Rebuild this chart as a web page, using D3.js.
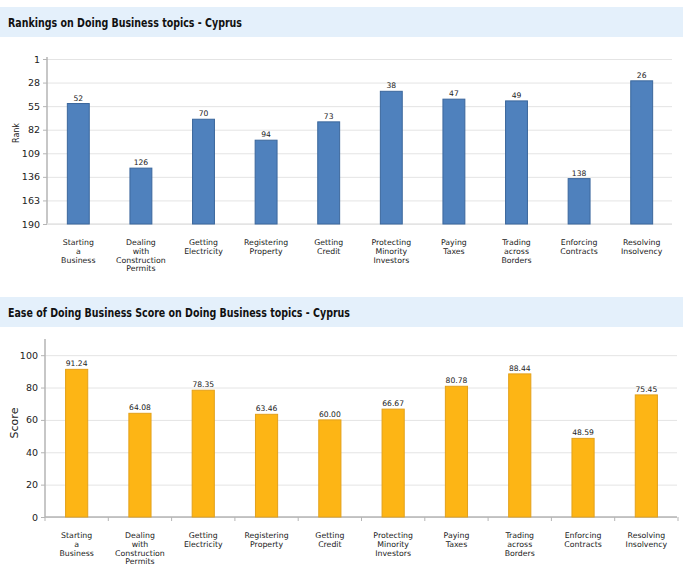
<!DOCTYPE html>
<html>
<head>
<meta charset="utf-8">
<script src="https://cdn.jsdelivr.net/npm/d3@7"></script>
<style>
  body { margin: 0; background: #fff; }
  svg text { font-family: "DejaVu Sans", sans-serif; fill: #222; }
  .title { font-family: "DejaVu Sans Condensed", "DejaVu Sans", sans-serif; font-stretch: condensed; font-weight: bold; font-size: 12px; fill: #111; }
  .grid line { stroke: #e4e4e4; }
  .grid .domain { display: none; }
</style>
</head>
<body>
<svg id="chart" width="700" height="586"></svg>
<script>
// categories (line breaks are the wrapped tick labels)
const categories = [
  'Starting\na\nBusiness',
  'Dealing\nwith\nConstruction\nPermits',
  'Getting\nElectricity',
  'Registering\nProperty',
  'Getting\nCredit',
  'Protecting\nMinority\nInvestors',
  'Paying\nTaxes',
  'Trading\nacross\nBorders',
  'Enforcing\nContracts',
  'Resolving\nInsolvency'
]
const ranks = [52, 126, 70, 94, 73, 38, 47, 49, 138, 26]
const scores = [91.24, 64.08, 78.35, 63.46, 60.00, 66.67, 80.78, 88.44, 48.59, 75.45]
const rankTicks = [1, 28, 55, 82, 109, 136, 163, 190]
const scoreTicks = [0, 20, 40, 60, 80, 100]

const svg = d3.select('#chart')

/**
 * Draws one titled bar chart panel.
 */
function drawPanel (opt) {
  const g = svg.append('g')

  g.append('rect')
    .attr('x', 0).attr('y', opt.bandY)
    .attr('width', 683).attr('height', 30)
    .attr('fill', '#e4f0fb')
  const title = g.append('text')
    .attr('class', 'title')
    .attr('x', 8).attr('y', opt.bandY + 19.5)
    .text(opt.title)
  // keep the title at the width it has in the picture
  if (title.node().getComputedTextLength() > opt.titleWidth) {
    title.attr('textLength', opt.titleWidth).attr('lengthAdjust', 'spacingAndGlyphs')
  }

  const x = d3.scaleBand()
    .domain(categories)
    .range([opt.left, opt.right])
    .paddingInner(0.65)
    .paddingOuter(0.325)

  const y = d3.scaleLinear()
    .domain(opt.domain)
    .range([opt.bottom, opt.top])

  // grid lines
  g.append('g')
    .attr('class', 'grid')
    .attr('transform', 'translate(' + opt.left + ',0)')
    .call(d3.axisLeft(y).tickValues(opt.ticks).tickSize(-(opt.gridRight - opt.left)).tickFormat(''))

  // y axis
  const yAxis = g.append('g')
    .attr('transform', 'translate(' + opt.left + ',0)')
    .call(d3.axisLeft(y).tickValues(opt.ticks).tickSize(4).tickSizeOuter(0))
  yAxis.select('.domain').attr('stroke', '#b5b5b5').attr('stroke-width', 1.5)
    .attr('d', 'M0,' + opt.axisTop + 'V' + opt.bottom)
  yAxis.selectAll('.tick line').attr('stroke', '#b5b5b5')
  yAxis.selectAll('.tick text').attr('font-size', '9.5px').attr('fill', '#333')
    .attr('font-family', '"DejaVu Sans", sans-serif')

  // x axis
  const xAxis = g.append('g')
    .attr('transform', 'translate(0,' + opt.bottom + ')')
    .call(d3.axisBottom(x).tickSize(0).tickFormat(''))
  xAxis.select('.domain').attr('stroke', opt.xAxisColor).attr('stroke-width', 1.5)
    .attr('d', 'M' + opt.left + ',0H' + opt.gridRight)
  if (opt.xTicks) {
    const step = x.step()
    xAxis.selectAll('.boundary')
      .data(d3.range(categories.length + 1))
      .enter()
      .append('line')
      .attr('x1', function (i) { return opt.left + i * step })
      .attr('x2', function (i) { return opt.left + i * step })
      .attr('y1', 0).attr('y2', 4)
      .attr('stroke', '#b5b5b5')
  }

  // category labels
  const labels = g.selectAll('.cat')
    .data(categories)
    .enter()
    .append('text')
    .attr('class', 'cat')
    .attr('text-anchor', 'middle')
    .attr('font-size', '7.8px')
    .attr('transform', function (d) { return 'translate(' + (x(d) + x.bandwidth() / 2) + ',' + (opt.bottom + 21) + ')' })
  labels.selectAll('tspan')
    .data(function (d) { return d.split('\n') })
    .enter()
    .append('tspan')
    .attr('x', 0)
    .attr('y', function (d, i) { return i * 8.8 })
    .text(function (d) { return d })

  // bars
  g.selectAll('.bar')
    .data(opt.values)
    .enter()
    .append('rect')
    .attr('class', 'bar')
    .attr('x', function (d, i) { return x(categories[i]) })
    .attr('width', x.bandwidth())
    .attr('y', function (d) { return Math.min(y(d), opt.bottom) })
    .attr('height', function (d) { return Math.abs(opt.bottom - y(d)) })
    .attr('fill', opt.fill)
    .attr('stroke', opt.stroke)
    .attr('stroke-width', 1)

  // value labels
  g.selectAll('.val')
    .data(opt.values)
    .enter()
    .append('text')
    .attr('class', 'val')
    .attr('text-anchor', 'middle')
    .attr('font-size', '7.6px')
    .attr('x', function (d, i) { return x(categories[i]) + x.bandwidth() / 2 })
    .attr('y', function (d) { return y(d) - 3 })
    .text(function (d) { return opt.format(d) })

  // y axis title
  g.append('text')
    .attr('text-anchor', 'middle')
    .attr('font-size', opt.yTitleSize)
    .attr('transform', 'translate(' + opt.yTitleX + ',' + opt.yTitleY + ') rotate(-90)')
    .text(opt.yTitle)
}

drawPanel({
  title: 'Rankings on Doing Business topics - Cyprus',
  titleWidth: 234,
  bandY: 7,
  left: 47,
  right: 673,
  gridRight: 672,
  top: 59,
  axisTop: 57,
  bottom: 224,
  domain: [190, 1],
  ticks: rankTicks,
  values: ranks,
  fill: '#4f81bd',
  stroke: '#3b679c',
  xAxisColor: '#e4e4e4',
  xTicks: false,
  format: function (d) { return d },
  yTitle: 'Rank',
  yTitleSize: '8px',
  yTitleX: 19,
  yTitleY: 133
})

drawPanel({
  title: 'Ease of Doing Business Score on Doing Business topics - Cyprus',
  titleWidth: 342,
  bandY: 297,
  left: 45,
  right: 678,
  gridRight: 677,
  top: 339,
  axisTop: 339,
  bottom: 517,
  domain: [0, 110],
  ticks: scoreTicks,
  values: scores,
  fill: '#fdb515',
  stroke: '#e3a11a',
  xAxisColor: '#b5b5b5',
  xTicks: true,
  format: function (d) { return d.toFixed(2) },
  yTitle: 'Score',
  yTitleSize: '11px',
  yTitleX: 18,
  yTitleY: 423
})
</script>
</body>
</html>
